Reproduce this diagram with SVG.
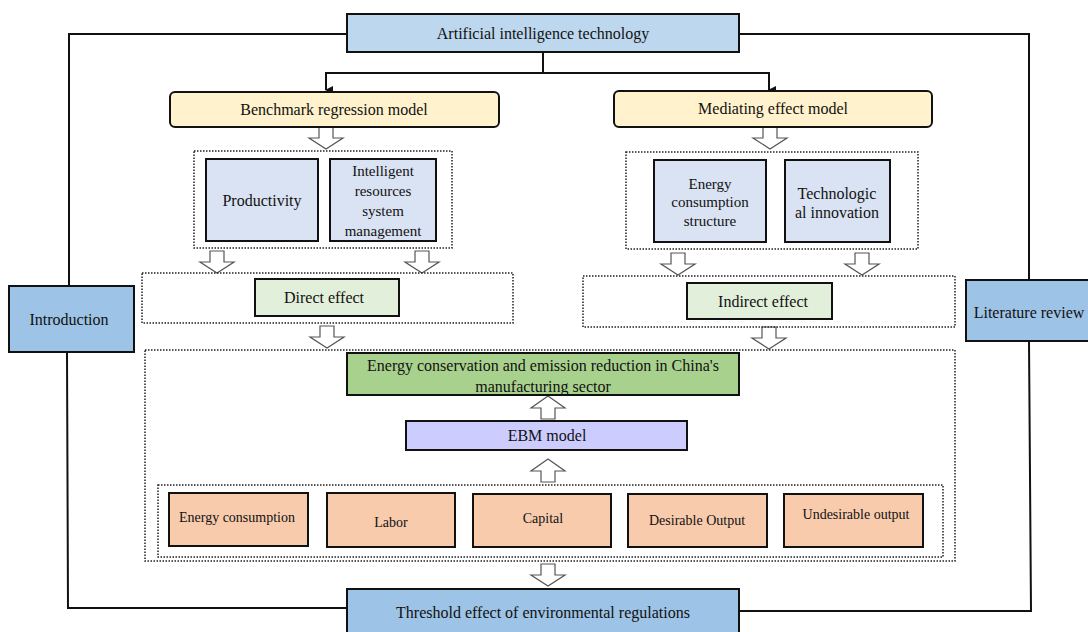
<svg xmlns="http://www.w3.org/2000/svg" xmlns:xlink="http://www.w3.org/1999/xlink" width="1088" height="632" viewBox="0 0 1088 632">
<style>
text{font-family:'Liberation Serif',Tinos,'DejaVu Serif','Noto Serif',serif;fill:#111;text-anchor:middle;dominant-baseline:central}
.t16{font-size:16px}.t15{font-size:15px}.t13{font-size:14px}
.box{stroke:#111;stroke-width:2}
.dot{fill:none;stroke:#222;stroke-width:1.5;stroke-dasharray:1.5 1.5}
.ln{fill:none;stroke:#111;stroke-width:2}
.ha{fill:#fff;stroke:#555;stroke-width:1.2}
</style>
<defs>
<path id="darr" d="M-7,0 H7 V11 H17 L0,22 L-17,11 H-7 Z"/>
<path id="uarr" d="M-7,0 H7 V-11 H17 L0,-23 L-17,-11 H-7 Z"/>
<marker id="ah" markerWidth="8" markerHeight="8" refX="4" refY="7" orient="auto" markerUnits="userSpaceOnUse" viewBox="0 0 8 8"><path d="M0,0 L8,0 L4,8 Z" fill="#111"/></marker>
</defs>
<rect width="1088" height="632" fill="#fff"/>
<g id="connectors">
<path class="ln" d="M347,34 H69 V285"/>
<path class="ln" d="M739,34 H1029 V280"/>
<path class="ln" d="M67,352 L68,608 H347"/>
<path class="ln" d="M1029,341 L1031,611 H739"/>
<path class="ln" stroke-width="1.6" d="M543,53 V73 H326 V90" marker-end="url(#ah)"/>
<path class="ln" stroke-width="1.6" d="M543,73 H769 V90" marker-end="url(#ah)"/>
<g class="ha">
<use xlink:href="#darr" x="326" y="127"/>
<use xlink:href="#darr" x="770" y="127"/>
<use xlink:href="#darr" x="217" y="251"/>
<use xlink:href="#darr" x="422" y="251"/>
<use xlink:href="#darr" x="678" y="253"/>
<use xlink:href="#darr" x="862" y="253"/>
<use xlink:href="#darr" x="327" y="326"/>
<use xlink:href="#darr" x="769" y="327"/>
<use xlink:href="#uarr" x="548" y="419"/>
<use xlink:href="#uarr" x="548" y="482"/>
<use xlink:href="#darr" x="548" y="564"/>
</g>
</g>
<g id="containers">
<rect class="dot" x="194" y="151" width="258" height="97"/>
<rect class="dot" x="626" y="152" width="292" height="97"/>
<rect class="dot" x="142" y="273" width="371" height="50"/>
<rect class="dot" x="583" y="276" width="372" height="51"/>
<rect class="dot" x="145" y="350" width="810" height="211"/>
<rect class="dot" x="158" y="485" width="785" height="72"/>
</g>
<g id="ai"><rect class="box" x="347" y="14" width="392" height="38" fill="#bdd7ee"/><text class="t16" x="543" y="33">Artificial intelligence technology</text></g>
<g id="benchmark"><rect class="box" x="170" y="92" width="329" height="35" rx="5" fill="#fff2cc"/><text class="t16" x="334" y="109">Benchmark regression model</text></g>
<g id="mediating"><rect class="box" x="614" y="91" width="318" height="36" rx="5" fill="#fff2cc"/><text class="t16" x="773" y="108">Mediating effect model</text></g>
<g id="productivity"><rect class="box" x="206" y="159" width="112" height="82" fill="#dae3f3"/><text class="t16" x="262" y="200">Productivity</text></g>
<g id="intelligent"><rect class="box" x="330" y="159" width="106" height="82" fill="#dae3f3"/><text class="t15" x="383" y="171">Intelligent</text><text class="t15" x="383" y="191">resources</text><text class="t15" x="383" y="211">system</text><text class="t15" x="383" y="231">management</text></g>
<g id="energystructure"><rect class="box" x="654" y="160" width="112" height="82" fill="#dae3f3"/><text class="t15" x="710" y="184">Energy</text><text class="t15" x="710" y="202">consumption</text><text class="t15" x="710" y="221">structure</text></g>
<g id="techinnov"><rect class="box" x="785" y="160" width="105" height="82" fill="#dae3f3"/><text class="t16" x="837" y="193">Technologic</text><text class="t16" x="837" y="212">al innovation</text></g>
<g id="direct"><rect class="box" x="255" y="279" width="144" height="37" fill="#e2efda"/><text class="t16" x="324" y="297">Direct effect</text></g>
<g id="indirect"><rect class="box" x="687" y="283" width="145" height="36" fill="#e2efda"/><text class="t16" x="763" y="301">Indirect effect</text></g>
<g id="introduction"><rect class="box" x="9" y="286" width="125" height="66" fill="#9dc3e6"/><text class="t16" x="69" y="319">Introduction</text></g>
<g id="literature"><rect class="box" x="966" y="280" width="130" height="61" fill="#9dc3e6"/><text class="t16" x="1029" y="312">Literature review</text></g>
<g id="conservation"><rect class="box" x="347" y="353" width="392" height="42" fill="#a9d18e"/><text class="t16" x="543" y="365">Energy conservation and emission reduction in China's</text><text class="t16" x="543" y="386">manufacturing sector</text></g>
<g id="ebm"><rect class="box" x="406" y="421" width="281" height="29" fill="#ccccff"/><text class="t16" x="547" y="435">EBM model</text></g>
<g id="energyconsumption"><rect class="box" x="169" y="493" width="139" height="53" fill="#f8cbad"/><text class="t13" x="237" y="517">Energy consumption</text></g>
<g id="labor"><rect class="box" x="327" y="493" width="128" height="54" fill="#f8cbad"/><text class="t13" x="391" y="522">Labor</text></g>
<g id="capital"><rect class="box" x="473" y="494" width="138" height="53" fill="#f8cbad"/><text class="t13" x="543" y="518">Capital</text></g>
<g id="desirable"><rect class="box" x="628" y="494" width="139" height="53" fill="#f8cbad"/><text class="t13" x="697" y="520">Desirable Output</text></g>
<g id="undesirable"><rect class="box" x="784" y="494" width="139" height="53" fill="#f8cbad"/><text class="t13" x="856" y="514">Undesirable output</text></g>
<g id="threshold"><rect class="box" x="347" y="589" width="392" height="50" fill="#9dc3e6"/><text class="t16" x="543" y="612">Threshold effect of environmental regulations</text></g>
</svg>
